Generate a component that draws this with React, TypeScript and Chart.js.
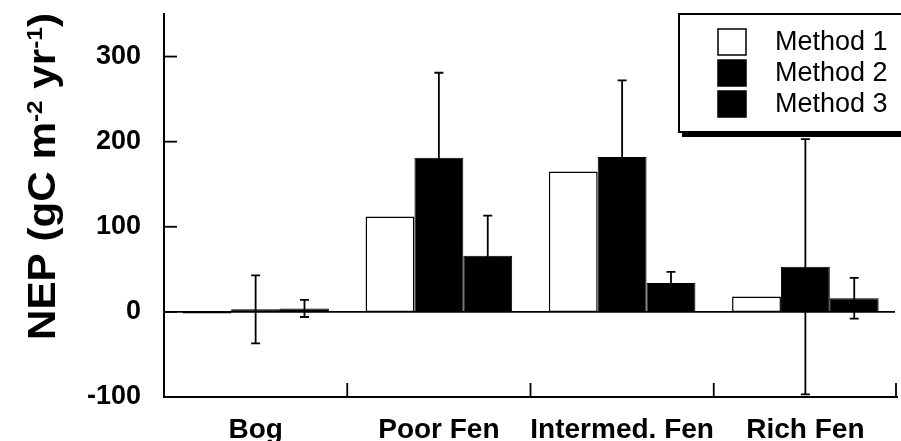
import React, { useEffect, useRef } from 'react';
import { Chart, registerables } from 'chart.js';

Chart.register(...registerables);

const categories = ['Bog', 'Poor Fen', 'Intermed. Fen', 'Rich Fen'];
const seriesLabels = ['Method 1', 'Method 2', 'Method 3'];
const method1 = [-2, 112, 165, 18];
const method2 = [3, 181, 182, 53];
const method3 = [4, 66, 34, 16];
const method2Err = [40, 100, 90, 150];
const method3Err = [10, 47, 13, 24];
const yTickValues = [-100, 0, 100, 200, 300];
const yMin = -100;
const yMax = 350;

const FONT = "'Liberation Sans', Arial, sans-serif";

const errorBarPlugin = {
  id: 'errorBars',
  afterDatasetsDraw(chart: any) {
    const ctx = chart.ctx;
    const ys = chart.scales.y;
    chart.data.datasets.forEach((ds: any, di: number) => {
      const errs = ds.errors;
      if (!errs) return;
      const meta = chart.getDatasetMeta(di);
      meta.data.forEach((bar: any, i: number) => {
        const e = errs[i];
        if (e == null) return;
        const v = ds.data[i];
        const x = bar.x;
        const yTop = ys.getPixelForValue(v + e);
        const yBot = Math.min(ys.getPixelForValue(v - e), chart.chartArea.bottom);
        ctx.save();
        ctx.strokeStyle = '#000';
        ctx.lineWidth = 1.8;
        ctx.beginPath();
        ctx.moveTo(x, yTop);
        ctx.lineTo(x, yBot);
        ctx.moveTo(x - 4.5, yTop);
        ctx.lineTo(x + 4.5, yTop);
        ctx.moveTo(x - 4.5, yBot);
        ctx.lineTo(x + 4.5, yBot);
        ctx.stroke();
        ctx.restore();
      });
    });
  },
};

const axisDecorPlugin = {
  id: 'axisDecor',
  beforeDatasetsDraw(chart: any) {
    const ctx = chart.ctx;
    const { left, right, bottom } = chart.chartArea;
    const ys = chart.scales.y;
    const xs = chart.scales.x;
    ctx.save();
    ctx.strokeStyle = '#000';
    ctx.lineWidth = 1.6;
    const y0 = ys.getPixelForValue(0);
    ctx.beginPath();
    ctx.moveTo(left, y0);
    ctx.lineTo(right - 2, y0);
    ctx.stroke();
    ctx.lineWidth = 1.8;
    yTickValues.forEach((v) => {
      const y = ys.getPixelForValue(v);
      ctx.beginPath();
      ctx.moveTo(left, y);
      ctx.lineTo(left + 13, y);
      ctx.stroke();
    });
    const n = categories.length;
    for (let i = 0; i < n; i++) {
      let bx;
      if (i < n - 1) bx = (xs.getPixelForValue(i) + xs.getPixelForValue(i + 1)) / 2;
      else bx = right - 1;
      ctx.beginPath();
      ctx.moveTo(bx, bottom);
      ctx.lineTo(bx, bottom - 14);
      ctx.stroke();
    }
    ctx.restore();
  },
};

const titlePlugin = {
  id: 'yTitle',
  afterDraw(chart: any) {
    const ctx = chart.ctx;
    const big = `bold 38px ${FONT}`;
    const small = `bold 22px ${FONT}`;
    const parts = [
      { t: 'NEP (gC m', s: false },
      { t: '-2', s: true },
      { t: ' yr', s: false },
      { t: '-1', s: true },
      { t: ')', s: false },
    ];
    ctx.save();
    let total = 0;
    parts.forEach((p) => {
      ctx.font = p.s ? small : big;
      total += ctx.measureText(p.t).width;
    });
    const targetLen = 327;
    const k = targetLen / total;
    ctx.translate(55, 340);
    ctx.rotate(-Math.PI / 2);
    ctx.scale(k, 1);
    ctx.fillStyle = '#000';
    ctx.textBaseline = 'alphabetic';
    ctx.textAlign = 'left';
    let x = 0;
    parts.forEach((p) => {
      ctx.font = p.s ? small : big;
      ctx.fillText(p.t, x, p.s ? -13 : 0);
      x += ctx.measureText(p.t).width;
    });
    ctx.restore();
  },
};

const boxLegendPlugin = {
  id: 'boxLegend',
  afterDraw(chart: any) {
    const ctx = chart.ctx;
    const L = 679, T = 14, R = 912, B = 132;
    ctx.save();
    ctx.fillStyle = '#000';
    ctx.fillRect(L + 3, T + 5, R - L, B - T);
    ctx.fillStyle = '#fff';
    ctx.fillRect(L, T, R - L, B - T);
    ctx.strokeStyle = '#000';
    ctx.lineWidth = 2;
    ctx.strokeRect(L, T, R - L, B - T);
    chart.data.datasets.forEach((ds: any, i: number) => {
      const sy = 29 + i * 31;
      ctx.fillStyle = ds.backgroundColor;
      ctx.fillRect(718, sy, 28, 26);
      ctx.lineWidth = 1.5;
      ctx.strokeStyle = '#000';
      ctx.strokeRect(718, sy, 28, 26);
      ctx.fillStyle = '#000';
      ctx.font = `27px ${FONT}`;
      ctx.textBaseline = 'middle';
      ctx.textAlign = 'left';
      ctx.fillText(ds.label, 775, sy + 14);
    });
    ctx.restore();
  },
};

export default function App() {
  const ref = useRef<HTMLCanvasElement | null>(null);

  useEffect(() => {
    if (!ref.current) return;
    const chart = new Chart(ref.current, {
      type: 'bar',
      data: {
        labels: categories,
        datasets: [
          {
            label: seriesLabels[0],
            data: method1,
            backgroundColor: '#ffffff',
            borderColor: '#000000',
            borderWidth: 1.5,
            borderSkipped: false,
          } as any,
          {
            label: seriesLabels[1],
            data: method2,
            backgroundColor: '#000000',
            borderColor: '#000000',
            borderWidth: 1,
            borderSkipped: false,
            errors: method2Err,
          } as any,
          {
            label: seriesLabels[2],
            data: method3,
            backgroundColor: '#000000',
            borderColor: '#000000',
            borderWidth: 1,
            borderSkipped: false,
            errors: method3Err,
          } as any,
        ],
      },
      options: {
        responsive: false,
        animation: false,
        devicePixelRatio: 1,
        layout: { padding: { top: 14, right: 4, left: 0, bottom: 0 } },
        datasets: { bar: { categoryPercentage: 0.8, barPercentage: 1.0 } },
        plugins: {
          legend: { display: false },
          tooltip: { enabled: false },
          title: { display: false },
        },
        scales: {
          x: {
            offset: true,
            grid: { display: false, drawTicks: false },
            border: { display: true, color: '#000', width: 2 },
            ticks: {
              color: '#000',
              font: { family: FONT, size: 28, weight: 'bold' },
              padding: 16,
              maxRotation: 0,
              autoSkip: false,
            },
            afterFit: (s: any) => {
              s.height = 44;
              s.paddingLeft = 0;
              s.paddingRight = 0;
            },
          },
          y: {
            min: yMin,
            max: yMax,
            grid: { display: false, drawTicks: false },
            border: { display: true, color: '#000', width: 2 },
            ticks: {
              stepSize: 100,
              color: '#000',
              font: { family: FONT, size: 27, weight: 'bold' },
              padding: 23,
            },
            afterBuildTicks: (s: any) => {
              s.ticks = yTickValues.map((v) => ({ value: v }));
            },
            afterFit: (s: any) => {
              s.width = 164;
              s.paddingTop = 0;
              s.paddingBottom = 0;
            },
          },
        },
      } as any,
      plugins: [axisDecorPlugin, errorBarPlugin, titlePlugin, boxLegendPlugin],
    });
    return () => chart.destroy();
  }, []);

  return (
    <div style={{ position: 'absolute', left: 0, top: 0, width: 901, height: 441, background: '#fff' }}>
      <canvas ref={ref} width={901} height={441} style={{ display: 'block' }} />
    </div>
  );
}
